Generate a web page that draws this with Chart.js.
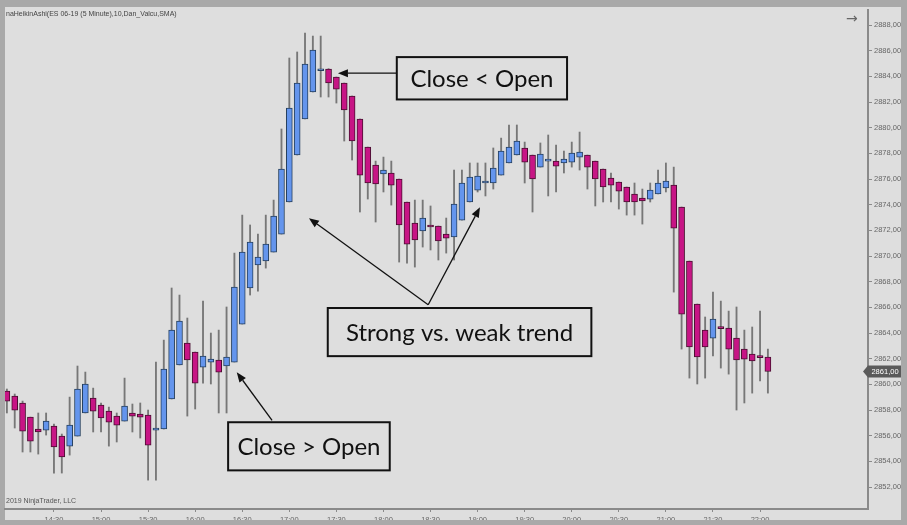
<!DOCTYPE html>
<html>
<head>
<meta charset="utf-8">
<script src="https://cdn.jsdelivr.net/npm/chart.js@4.4.0/dist/chart.umd.min.js"></script>
<style>
  html, body { margin: 0; padding: 0; background: #a9a9a9; }
  #wrap { width: 907px; height: 525px; position: relative; }
</style>
</head>
<body>
<div id="wrap"><canvas id="chart" width="907" height="525"></canvas></div>
<script>
// ES 06-19, 5 minute Heikin-Ashi bars (one entry per bar)
const times = [
  '14:00','14:05','14:10','14:15','14:20','14:25','14:30','14:35','14:40','14:45','14:50','14:55',
  '15:00','15:05','15:10','15:15','15:20','15:25','15:30','15:35','15:40','15:45','15:50','15:55',
  '16:00','16:05','16:10','16:15','16:20','16:25','16:30','16:35','16:40','16:45','16:50','16:55',
  '17:00','17:05','17:10','17:15','17:20','17:25','17:30','17:35','17:40','17:45','17:50','17:55',
  '18:00','18:05','18:10','18:15','18:20','18:25','18:30','18:35','18:40','18:45','18:50','18:55',
  '19:00','19:05','19:10','19:15','19:20','19:25','19:30','19:35','19:40','19:45','19:50','19:55',
  '20:00','20:05','20:10','20:15','20:20','20:25','20:30','20:35','20:40','20:45','20:50','20:55',
  '21:00','21:05','21:10','21:15','21:20','21:25','21:30','21:35','21:40','21:45','21:50','21:55',
  '22:00','22:05'
];

const open = [
  2859.48, 2859.09, 2858.55, 2857.45, 2856.52, 2856.44, 2856.75, 2855.97, 2855.19, 2855.97,
  2857.77, 2858.93, 2858.39, 2857.92, 2857.53, 2857.14, 2857.77, 2857.69, 2857.61, 2856.44,
  2856.52, 2858.86, 2861.51, 2863.22, 2862.52, 2861.35, 2861.74, 2861.90, 2861.43, 2861.74,
  2864.70, 2867.51, 2869.30, 2869.61, 2870.31, 2871.71, 2874.21, 2877.87, 2880.68, 2882.78,
  2884.44, 2884.57, 2883.95, 2883.48, 2882.47, 2880.68, 2878.49, 2877.09, 2876.39, 2876.47,
  2876.00, 2874.21, 2872.57, 2871.95, 2872.42, 2872.34, 2871.71, 2871.48, 2872.80, 2874.21,
  2875.14, 2875.69, 2875.69, 2876.31, 2877.25, 2877.87, 2878.42, 2877.87, 2876.93, 2877.40,
  2877.40, 2877.25, 2877.32, 2877.71, 2877.87, 2877.40, 2876.78, 2876.08, 2875.77, 2875.38,
  2874.83, 2874.52, 2874.44, 2874.83, 2875.30, 2875.53, 2873.82, 2869.61, 2866.26, 2864.23,
  2863.61, 2864.39, 2864.39, 2863.61, 2862.75, 2862.36, 2862.13, 2862.13
];
const high = [
  2859.64, 2859.25, 2858.70, 2857.45, 2857.77, 2857.77, 2856.91, 2856.13, 2859.01, 2861.43,
  2860.96, 2859.71, 2858.55, 2858.23, 2857.77, 2860.49, 2858.47, 2858.55, 2858.00, 2861.74,
  2863.45, 2867.51, 2866.96, 2865.17, 2862.52, 2866.49, 2864.00, 2864.23, 2866.03, 2870.23,
  2873.19, 2872.42, 2871.71, 2873.19, 2874.36, 2879.90, 2885.43, 2885.90, 2887.38, 2887.14,
  2887.14, 2884.60, 2883.95, 2883.48, 2882.47, 2880.68, 2878.49, 2877.40, 2877.71, 2877.40,
  2876.00, 2874.21, 2874.36, 2874.36, 2873.90, 2872.34, 2872.96, 2876.70, 2876.70, 2877.25,
  2877.25, 2877.25, 2878.42, 2879.19, 2880.21, 2880.21, 2878.88, 2877.87, 2878.81, 2879.43,
  2878.65, 2878.18, 2878.88, 2879.66, 2877.87, 2877.40, 2876.78, 2876.47, 2875.77, 2875.38,
  2875.69, 2875.22, 2875.69, 2876.70, 2877.25, 2876.93, 2873.82, 2869.61, 2866.26, 2865.25,
  2867.19, 2866.49, 2865.71, 2866.03, 2864.23, 2864.47, 2865.71, 2862.75
];
const low = [
  2857.77, 2856.60, 2854.73, 2854.73, 2854.57, 2856.05, 2853.09, 2853.09, 2854.49, 2855.97,
  2857.77, 2856.29, 2856.29, 2855.19, 2855.51, 2857.14, 2856.29, 2855.82, 2852.54, 2852.54,
  2856.52, 2858.86, 2861.51, 2857.53, 2858.08, 2860.10, 2860.03, 2857.77, 2857.77, 2861.74,
  2864.70, 2866.96, 2867.27, 2869.06, 2870.31, 2871.71, 2874.21, 2877.87, 2880.68, 2882.78,
  2882.39, 2882.39, 2881.92, 2878.96, 2877.48, 2873.43, 2874.44, 2872.65, 2874.99, 2873.97,
  2869.53, 2869.45, 2869.14, 2870.70, 2870.47, 2869.69, 2870.23, 2869.69, 2872.80, 2874.21,
  2874.99, 2874.68, 2875.22, 2876.31, 2877.25, 2877.87, 2875.69, 2873.43, 2876.93, 2874.68,
  2874.99, 2876.47, 2876.93, 2876.70, 2875.22, 2873.90, 2874.21, 2874.21, 2873.66, 2873.19,
  2873.19, 2872.49, 2874.21, 2874.83, 2874.99, 2867.19, 2862.75, 2860.49, 2860.03, 2860.49,
  2862.21, 2861.27, 2860.80, 2858.00, 2858.55, 2859.32, 2860.26, 2859.32
];
const close = [
  2858.70, 2858.00, 2856.36, 2855.58, 2856.29, 2857.14, 2855.12, 2854.34, 2856.83, 2859.64,
  2860.03, 2857.92, 2857.38, 2857.06, 2856.83, 2858.31, 2857.53, 2857.45, 2855.27, 2856.60,
  2861.19, 2864.23, 2864.93, 2861.90, 2860.10, 2862.21, 2861.97, 2860.96, 2862.13, 2867.58,
  2870.31, 2871.09, 2869.92, 2870.93, 2873.12, 2876.78, 2881.53, 2883.48, 2884.96, 2886.05,
  2884.59, 2883.48, 2883.01, 2881.38, 2878.96, 2876.31, 2875.69, 2875.61, 2876.70, 2875.53,
  2872.42, 2870.93, 2871.25, 2872.96, 2872.26, 2871.17, 2871.40, 2874.05, 2875.69, 2876.16,
  2876.23, 2875.77, 2876.86, 2878.18, 2878.49, 2878.96, 2877.32, 2876.00, 2877.95, 2877.44,
  2877.01, 2877.56, 2878.03, 2878.10, 2876.93, 2876.00, 2875.38, 2875.53, 2875.06, 2874.21,
  2874.21, 2874.29, 2875.14, 2875.69, 2875.84, 2872.18, 2865.48, 2862.91, 2862.13, 2862.91,
  2865.09, 2864.35, 2862.75, 2861.90, 2861.97, 2861.82, 2862.09, 2861.00
];

const xTicks = ['14:30','15:00','15:30','16:00','16:30','17:00','17:30','18:00',
                '18:30','19:00','19:30','20:00','20:30','21:00','21:30','22:00'];
const yTicks = [2852, 2854, 2856, 2858, 2860, 2862, 2864, 2866, 2868, 2870,
                2872, 2874, 2876, 2878, 2880, 2882, 2884, 2886, 2888];

// text boxes drawn over the chart, placed in bar-index / price units
const notes = [
  { text: 'Close < Open',          box: [49.7, 2885.5, 71.4, 2882.2],
    arrows: [[[49.7, 2884.25], [42.2, 2884.25]]] },
  { text: 'Strong vs. weak trend', box: [40.9, 2865.95, 74.5, 2862.2],
    arrows: [[[53.7, 2866.2], [38.5, 2872.95]], [[53.7, 2866.2], [60.3, 2873.8]]] },
  { text: 'Close > Open',          box: [28.2, 2857.05, 48.8, 2853.3],
    arrows: [[[33.8, 2857.2], [29.3, 2860.95]]] },
];

const BLUE    = '#6495ed';
const MAGENTA = '#c71585';
const BG      = '#dedede';
const FRAME   = '#a9a9a9';
const AXIS    = '#8a8a8a';
const LABEL   = '#666';

const fmt = v => v.toFixed(2).replace('.', ',');

function arrow(ctx, x1, y1, x2, y2) {
  const a = Math.atan2(y2 - y1, x2 - x1);
  const head = 10, half = 4;
  const bx = x2 - head * Math.cos(a), by = y2 - head * Math.sin(a);
  ctx.beginPath();
  ctx.moveTo(x1, y1);
  ctx.lineTo(bx, by);
  ctx.stroke();
  ctx.beginPath();
  ctx.moveTo(x2, y2);
  ctx.lineTo(bx + half * Math.sin(a), by - half * Math.cos(a));
  ctx.lineTo(bx - half * Math.sin(a), by + half * Math.cos(a));
  ctx.closePath();
  ctx.fill();
}

const framePlugin = {
  id: 'frame',
  beforeDraw(chart) {
    const ctx = chart.ctx;
    ctx.save();
    ctx.fillStyle = FRAME;
    ctx.fillRect(0, 0, chart.width, chart.height);
    ctx.fillStyle = BG;
    ctx.fillRect(5, 7, 896, 513);
    ctx.restore();
  },
  afterDraw(chart) {
    const ctx = chart.ctx;
    const xs = chart.scales.x, ys = chart.scales.y;
    ctx.save();

    // outer window border (cuts the time labels like the screenshot)
    ctx.fillStyle = FRAME;
    ctx.fillRect(0, 520, chart.width, 5);
    ctx.fillRect(901, 0, 6, chart.height);

    // header / footer text
    ctx.fillStyle = '#444';
    ctx.font = '7px "Liberation Sans", Arial, sans-serif';
    ctx.textBaseline = 'middle';
    ctx.fillText('naHeikinAshi(ES 06-19 (5 Minute),10,Dan_Valcu,SMA)', 6, 14);
    ctx.fillStyle = '#555';
    ctx.fillText('2019 NinjaTrader, LLC', 6, 501);
    ctx.fillStyle = '#666';
    ctx.font = '14px "DejaVu Sans", sans-serif';
    ctx.fillText('\u2192', 846, 19);

    // last price marker
    const last = close[close.length - 1];
    const py = ys.getPixelForValue(last);
    ctx.fillStyle = '#5a5a5a';
    ctx.beginPath();
    ctx.moveTo(863, py);
    ctx.lineTo(868, py - 6);
    ctx.lineTo(901, py - 6);
    ctx.lineTo(901, py + 6);
    ctx.lineTo(868, py + 6);
    ctx.closePath();
    ctx.fill();
    ctx.fillStyle = '#fff';
    ctx.font = '7.5px "Liberation Sans", Arial, sans-serif';
    ctx.textAlign = 'center';
    ctx.fillText(fmt(last), 885, py + 0.5);

    // annotation boxes
    ctx.font = '24px Lato, "Open Sans", sans-serif';
    notes.forEach(n => {
      const l = xs.getPixelForValue(n.box[0]), t = ys.getPixelForValue(n.box[1]);
      const r = xs.getPixelForValue(n.box[2]), b = ys.getPixelForValue(n.box[3]);
      ctx.strokeStyle = '#111';
      ctx.fillStyle = '#111';
      ctx.lineWidth = 1.3;
      n.arrows.forEach(([from, to]) => {
        arrow(ctx, xs.getPixelForValue(from[0]), ys.getPixelForValue(from[1]),
                   xs.getPixelForValue(to[0]), ys.getPixelForValue(to[1]));
      });
      ctx.fillStyle = BG;
      ctx.fillRect(l, t, r - l, b - t);
      ctx.lineWidth = 2;
      ctx.strokeRect(l, t, r - l, b - t);
      ctx.fillStyle = '#111';
      ctx.textAlign = 'center';
      ctx.fillText(n.text, (l + r) / 2, (t + b) / 2 + 1);
    });
    ctx.restore();
  }
};

const bodies = open.map((o, i) => ({ x: i, y: [o, close[i]] }));
const wicks  = low.map((l, i) => ({ x: i, y: [l, high[i]] }));
const up     = close.map((c, i) => c >= open[i]);

new Chart(document.getElementById('chart'), {
  type: 'bar',
  data: {
    datasets: [
      {
        data: bodies,
        backgroundColor: up.map(u => u ? BLUE : MAGENTA),
        borderColor: up.map(u => u ? '#26405f' : '#4a0f31'),
        borderWidth: 1,
        borderSkipped: false,
        barThickness: 6,
        minBarLength: 2,
        grouped: false,
      },
      {
        data: wicks,
        backgroundColor: '#777',
        borderWidth: 0,
        barThickness: 1.2,
        grouped: false,
      },
    ],
  },
  options: {
    responsive: false,
    devicePixelRatio: 1,
    animation: false,
    layout: { padding: { left: 5, top: 10, right: 0, bottom: 0 } },
    plugins: { legend: { display: false }, tooltip: { enabled: false } },
    scales: {
      x: {
        type: 'linear',
        offset: false,
        min: -0.24,
        max: 109.76,
        afterBuildTicks: s => { s.ticks = xTicks.map(t => ({ value: times.indexOf(t) })); },
        afterFit: s => { s.height = 16; },
        border: { color: AXIS, width: 2 },
        grid: { offset: false, drawOnChartArea: false, tickLength: 3, color: AXIS },
        ticks: {
          autoSkip: false,
          maxRotation: 0,
          padding: 3,
          color: LABEL,
          font: { size: 7.5, family: '"Liberation Sans", Arial, sans-serif' },
          callback: v => times[v],
        },
      },
      y: {
        position: 'right',
        min: 2850.29,
        max: 2889.17,
        afterBuildTicks: s => { s.ticks = yTicks.map(v => ({ value: v })); },
        afterFit: s => { s.width = 39; },
        border: { color: AXIS, width: 2 },
        grid: { drawOnChartArea: false, tickLength: 4, color: AXIS },
        ticks: {
          padding: 2,
          color: LABEL,
          font: { size: 7.5, family: '"Liberation Sans", Arial, sans-serif' },
          callback: v => fmt(v),
        },
      },
    },
  },
  plugins: [framePlugin],
});
</script>
</body>
</html>
